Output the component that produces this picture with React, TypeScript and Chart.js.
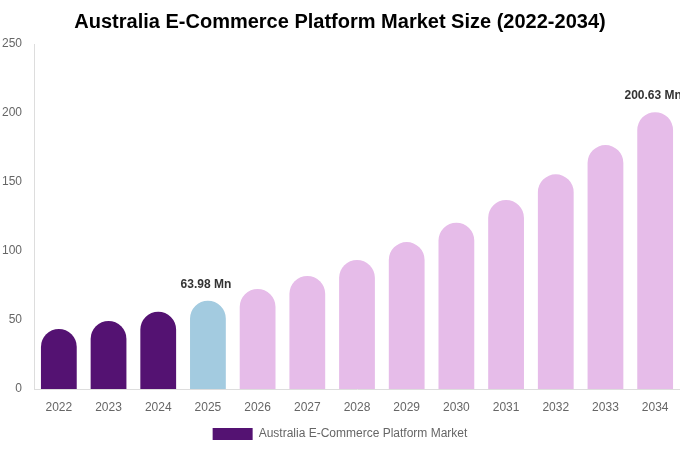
import { useEffect, useRef } from 'react';
import { Chart, registerables } from 'chart.js';

Chart.register(...registerables);

const years = ['2022', '2023', '2024', '2025', '2026', '2027', '2028', '2029', '2030', '2031', '2032', '2033', '2034'];
const marketSize = [43.5, 49.3, 56.0, 63.98, 72.5, 81.9, 93.5, 106.5, 120.5, 137.0, 155.6, 176.8, 200.63];
const labelledYears = ['2025', '2034'];

const HISTORIC = '#541272';
const CURRENT = '#a3cbe0';
const FORECAST = '#e6bce9';

const barColors = years.map((y) => {
  const n = Number(y);
  if (n < 2025) return HISTORIC;
  if (n === 2025) return CURRENT;
  return FORECAST;
});

const FONT = "'Liberation Sans', Arial, Helvetica, sans-serif";

const valueLabels = {
  id: 'valueLabels',
  afterDatasetsDraw(chart: Chart) {
    const { ctx } = chart;
    const meta = chart.getDatasetMeta(0);
    ctx.save();
    ctx.font = `bold 12px ${FONT}`;
    ctx.fillStyle = '#333333';
    ctx.textAlign = 'center';
    ctx.textBaseline = 'bottom';
    years.forEach((y, i) => {
      if (!labelledYears.includes(y)) return;
      const bar = meta.data[i] as any;
      ctx.fillText(`${marketSize[i].toFixed(2)} Mn`, bar.x - 2, bar.y - 10);
    });
    ctx.restore();
  },
};

export default function App() {
  const canvasRef = useRef<HTMLCanvasElement>(null);
  const chartRef = useRef<Chart | null>(null);

  useEffect(() => {
    document.body.style.margin = '0';
    if (!canvasRef.current) return;
    if (chartRef.current) chartRef.current.destroy();

    chartRef.current = new Chart(canvasRef.current, {
      type: 'bar',
      data: {
        labels: years,
        datasets: [
          {
            label: 'Australia E-Commerce Platform Market',
            data: marketSize,
            backgroundColor: barColors,
            borderRadius: { topLeft: 18, topRight: 18, bottomLeft: 0, bottomRight: 0 },
            borderSkipped: false,
            barPercentage: 0.72,
            categoryPercentage: 1,
          },
        ],
      },
      options: {
        responsive: false,
        animation: false,
        layout: { padding: 0 },
        plugins: {
          title: {
            display: true,
            text: 'Australia E-Commerce Platform Market Size (2022-2034)',
            color: '#000000',
            font: { family: FONT, size: 20, weight: 'bold' },
            padding: { top: 10, bottom: 10 },
          },
          legend: {
            position: 'bottom',
            labels: {
              boxWidth: 40,
              boxHeight: 12,
              color: '#666666',
              font: { family: FONT, size: 12 },
            },
          },
          tooltip: { enabled: false },
        },
        scales: {
          x: {
            grid: { display: false, drawTicks: false },
            border: { display: true, color: '#dddddd' },
            ticks: { color: '#666666', font: { family: FONT, size: 12 }, padding: 11 },
            afterFit: (scale: any) => {
              scale.height = 29;
            },
          },
          y: {
            min: 0,
            max: 250,
            grid: { display: false, drawTicks: false },
            border: { display: true, color: '#dddddd' },
            ticks: { stepSize: 50, color: '#666666', font: { family: FONT, size: 12 }, padding: 12 },
            afterFit: (scale: any) => {
              scale.width = 34;
            },
          },
        },
      },
      plugins: [valueLabels],
    });

    return () => {
      if (chartRef.current) {
        chartRef.current.destroy();
        chartRef.current = null;
      }
    };
  }, []);

  return (
    <div style={{ width: 680, height: 450 }}>
      <canvas ref={canvasRef} width={680} height={450}></canvas>
    </div>
  );
}
